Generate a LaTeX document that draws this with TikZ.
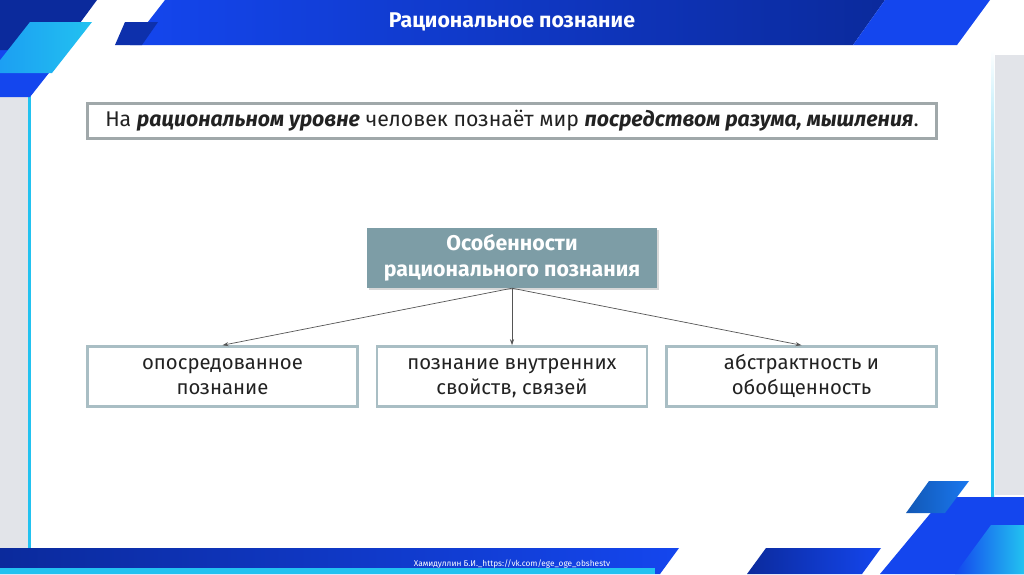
\documentclass[tikz,border=0pt]{standalone}
\usepackage{fontspec}
\setmainfont{Fira Sans}
\usetikzlibrary{arrows.meta,shadows}
\definecolor{navy}{HTML}{0B2A9C}
\definecolor{bblue}{HTML}{1446EE}
\definecolor{cyanc}{HTML}{22C2F0}
\definecolor{lgray}{HTML}{E2E4E9}
\definecolor{boxgray}{HTML}{A0A8AA}
\definecolor{tealbox}{HTML}{7D9DA6}
\definecolor{childb}{HTML}{A9BEC4}
\definecolor{txt}{HTML}{222222}
\definecolor{arr}{HTML}{555555}
\tikzset{
  childbox/.style={draw=childb, line width=2.5pt, fill=white, minimum width=270pt, minimum height=60pt, inner ysep=0pt, align=center, font=\fontsize{20.3}{25}\selectfont, text=txt},
  conn/.style={draw=arr, line width=0.7pt, -{Stealth[length=6pt,width=4pt]}}
}
\begin{document}
\begin{tikzpicture}[x=1pt,y=-1pt]
\useasboundingbox (0,0) rectangle (1024,574);
\fill[white] (0,0) rectangle (1024,574);
% side strips
\fill[lgray] (0,95) rectangle (28,548);
\fill[cyanc] (28,95) rectangle (31,548);
\fill[lgray] (995,55) rectangle (1024,495);
\shade[top color=white, bottom color=cyanc, middle color=cyanc] (991,50) rectangle (994,549);
% top-left corner
\fill[bblue] (0,40) -- (75,40) -- (30,97) -- (0,97) -- cycle;
\fill[navy] (0,0) -- (97,0) -- (60,50) -- (0,50) -- cycle;
\shade[left color=cyanc!80!blue, right color=cyanc] (30,22) -- (92,22) -- (52,73) -- (-10,73) -- cycle;
% header band
\shade[left color=bblue, right color=navy] (165,0) -- (885,0) -- (853,45) -- (130,45) -- cycle;
\fill[navy!80!bblue] (125,22) -- (158,22) -- (142,45) -- (115,45) -- cycle;
\fill[bblue] (885,0) -- (990,0) -- (957,45) -- (853,45) -- cycle;
\node[text=white, font=\fontsize{21.3}{22}\selectfont\bfseries] (title) at (512,22) {Рациональное познание};
% bottom band
\shade[left color=navy, right color=bblue] (0,548) -- (679,548) -- (660,574) -- (0,574) -- cycle;
\shade[left color=navy, right color=bblue] (766,548) -- (881,548) -- (862,574) -- (747,574) -- cycle;
\fill[cyanc] (0,568) rectangle (655,574);
\fill[bblue] (944,497) -- (1024,497) -- (1024,574) -- (880,574) -- cycle;
\shade[left color=bblue, right color=cyanc] (991,525) -- (1024,525) -- (1024,574) -- (955,574) -- cycle;
\shade[left color=navy!70!cyanc, right color=bblue!60!cyanc] (929,481) -- (969,481) -- (945,513) -- (906,513) -- cycle;
\node[text=white, font=\fontsize{8.3}{9}\selectfont] (foot) at (512,564) {Хамидуллин Б.И.\_https://vk.com/ege\_oge\_obshestv};
% top statement box
\node[draw=boxgray, line width=3pt, fill=white, minimum width=849pt, minimum height=35pt, inner ysep=0pt, font=\fontsize{21.3}{22}\selectfont, text=txt] (intro) at (512,120.5)
  {На \textbf{\textit{рациональном уровне}} человек познаёт мир \textbf{\textit{посредством разума, мышления}}.};
% header box
\node[fill=tealbox, minimum width=290pt, minimum height=60pt, inner ysep=0pt, align=center, text=white, font=\fontsize{21.3}{26}\selectfont\bfseries, drop shadow={opacity=0.3, shadow xshift=2pt, shadow yshift=-2pt}] (head) at (512,258)
  {Особенности\strut\\рационального познания\strut};
% child boxes
\node[childbox] (c1) at (222.5,376.5) {опосредованное\strut\\познание\strut};
\node[childbox] (c2) at (512,376.5) {познание внутренних\strut\\свойств, связей\strut};
\node[childbox] (c3) at (801.5,376.5) {абстрактность и\strut\\обобщенность\strut};
% connectors
\draw[conn] (head.south) -- (c1.north);
\draw[conn] (head.south) -- (c2.north);
\draw[conn] (head.south) -- (c3.north);
\end{tikzpicture}
\end{document}
